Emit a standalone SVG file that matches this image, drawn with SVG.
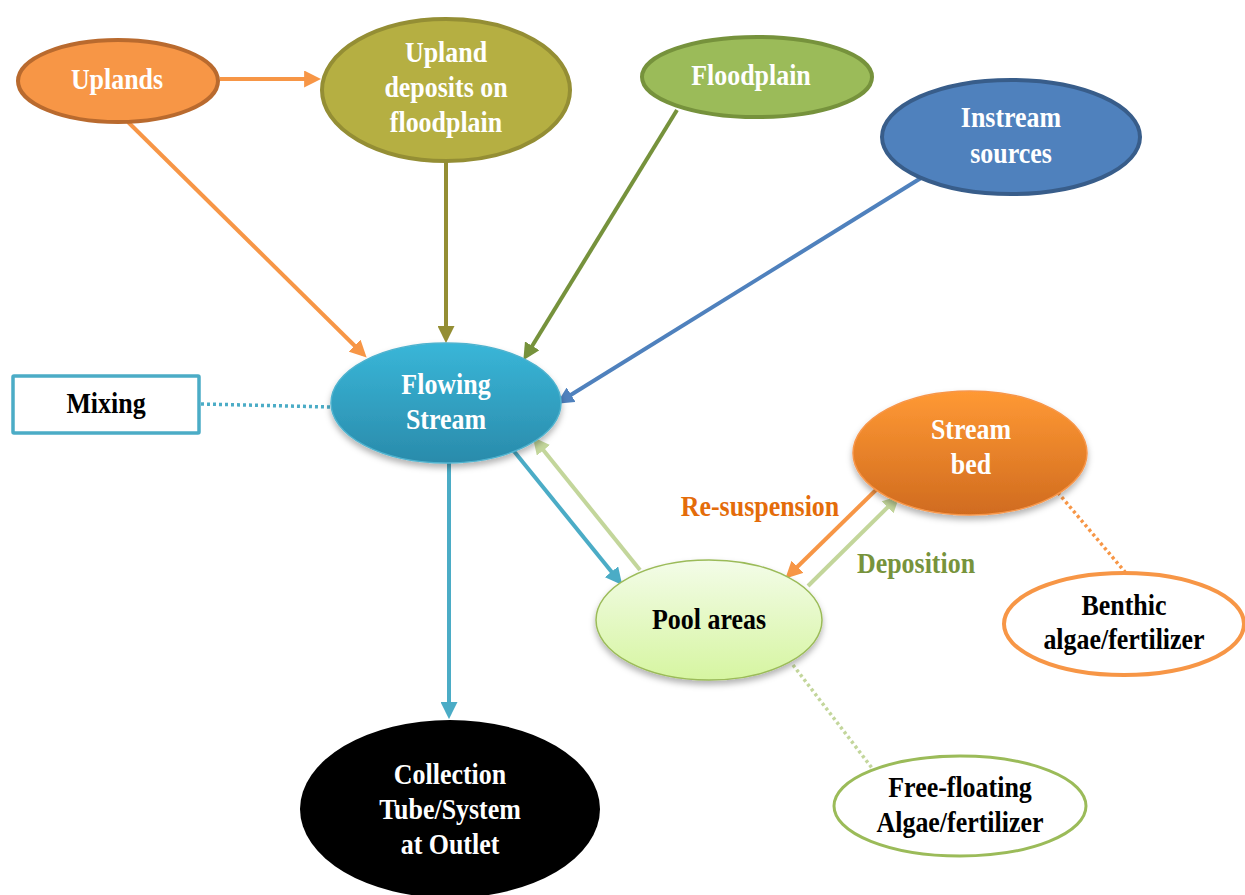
<svg xmlns="http://www.w3.org/2000/svg" width="1245" height="895" viewBox="0 0 1245 895">
  <defs>
    <style>
      .lbl { font-family: "Liberation Serif", "Times New Roman", serif; font-weight: bold; font-size: 28.5px; text-anchor: middle;
             transform-box: fill-box; transform-origin: center; transform: scaleX(0.91); }
      .w { fill: #ffffff; }
      .k { fill: #000000; }
      .conn { fill: none; stroke-width: 4; }
      .dot { fill: none; stroke-width: 3.5; stroke-dasharray: 3 3; }
    </style>
    <linearGradient id="gStream" x1="0" y1="0" x2="0" y2="1">
      <stop offset="0" stop-color="#39B6D8"/>
      <stop offset="1" stop-color="#2A8BAB"/>
    </linearGradient>
    <linearGradient id="gBed" x1="0" y1="0" x2="0" y2="1">
      <stop offset="0" stop-color="#FF9934"/>
      <stop offset="1" stop-color="#D06B1F"/>
    </linearGradient>
    <linearGradient id="gPool" x1="0" y1="0" x2="0" y2="1">
      <stop offset="0" stop-color="#F3FCE8"/>
      <stop offset="1" stop-color="#D6F5A1"/>
    </linearGradient>
    <filter id="shadow" x="-20%" y="-20%" width="140%" height="150%">
      <feDropShadow dx="0" dy="4" stdDeviation="3" flood-color="#000" flood-opacity="0.3"/>
    </filter>
    <marker id="aOrange" viewBox="0 0 10 10" refX="7" refY="5" markerUnits="userSpaceOnUse" markerWidth="17" markerHeight="17" orient="auto">
      <path d="M0,0 L10,5 L0,10 z" fill="#F79646"/>
    </marker>
    <marker id="aOlive" viewBox="0 0 10 10" refX="7" refY="5" markerUnits="userSpaceOnUse" markerWidth="17" markerHeight="17" orient="auto">
      <path d="M0,0 L10,5 L0,10 z" fill="#948E34"/>
    </marker>
    <marker id="aGreen" viewBox="0 0 10 10" refX="7" refY="5" markerUnits="userSpaceOnUse" markerWidth="17" markerHeight="17" orient="auto">
      <path d="M0,0 L10,5 L0,10 z" fill="#76923C"/>
    </marker>
    <marker id="aBlue" viewBox="0 0 10 10" refX="7" refY="5" markerUnits="userSpaceOnUse" markerWidth="17" markerHeight="17" orient="auto">
      <path d="M0,0 L10,5 L0,10 z" fill="#4F81BD"/>
    </marker>
    <marker id="aAqua" viewBox="0 0 10 10" refX="7" refY="5" markerUnits="userSpaceOnUse" markerWidth="17" markerHeight="17" orient="auto">
      <path d="M0,0 L10,5 L0,10 z" fill="#4BACC6"/>
    </marker>
    <marker id="aLight" viewBox="0 0 10 10" refX="7" refY="5" markerUnits="userSpaceOnUse" markerWidth="17" markerHeight="17" orient="auto">
      <path d="M0,0 L10,5 L0,10 z" fill="#C3D69B"/>
    </marker>
  </defs>

  <rect width="1245" height="895" fill="#ffffff"/>

  <!-- connectors -->
  <g id="connectors">
    <line class="conn" x1="220" y1="79" x2="316" y2="79" stroke="#F79646" marker-end="url(#aOrange)"/>
    <line class="conn" x1="128" y1="122" x2="363" y2="354" stroke="#F79646" marker-end="url(#aOrange)"/>
    <line class="conn" x1="446" y1="162" x2="446" y2="338" stroke="#948E34" marker-end="url(#aOlive)"/>
    <line class="conn" x1="677" y1="110" x2="526" y2="356" stroke="#76923C" marker-end="url(#aGreen)"/>
    <line class="conn" x1="921" y1="178" x2="561" y2="401" stroke="#4F81BD" marker-end="url(#aBlue)"/>
    <line class="conn" x1="449" y1="463" x2="449" y2="714" stroke="#4BACC6" marker-end="url(#aAqua)"/>
    <line class="conn" x1="513" y1="450" x2="619" y2="581" stroke="#4BACC6" marker-end="url(#aAqua)"/>
    <line class="conn" x1="640" y1="570" x2="536" y2="441" stroke="#C3D69B" marker-end="url(#aLight)"/>
    <line class="conn" x1="880" y1="486" x2="789" y2="575" stroke="#F79646" marker-end="url(#aOrange)"/>
    <line class="conn" x1="808" y1="586" x2="896" y2="499" stroke="#C3D69B" marker-end="url(#aLight)"/>
    <line class="dot" x1="201" y1="404" x2="331" y2="407" stroke="#4BACC6"/>
    <line class="dot" x1="1054" y1="488" x2="1125" y2="572" stroke="#F79646" stroke-width="3"/>
    <line class="dot" x1="793" y1="665" x2="872" y2="768" stroke="#C3D69B" stroke-width="3"/>
  </g>

  <!-- edge labels -->
  <text class="lbl" x="760" y="516" fill="#E46C0A">Re-suspension</text>
  <text class="lbl" x="916" y="573" fill="#77933C">Deposition</text>

  <!-- nodes -->
  <g id="uplands">
    <ellipse cx="118" cy="81" rx="100" ry="41" fill="#F79646" stroke="#B96A2E" stroke-width="4"/>
    <text class="lbl w" x="117" y="89">Uplands</text>
  </g>

  <g id="upland-deposits">
    <ellipse cx="446" cy="90" rx="124" ry="71" fill="#B5AF42" stroke="#948E34" stroke-width="4"/>
    <text class="lbl w" x="446" y="62">Upland</text>
    <text class="lbl w" x="446" y="97">deposits on</text>
    <text class="lbl w" x="446" y="132">floodplain</text>
  </g>

  <g id="floodplain">
    <ellipse cx="757" cy="77" rx="115" ry="40" fill="#9BBB59" stroke="#76923C" stroke-width="4"/>
    <text class="lbl w" x="751" y="85">Floodplain</text>
  </g>

  <g id="instream-sources">
    <ellipse cx="1011" cy="137" rx="129" ry="57" fill="#4F81BD" stroke="#385D8A" stroke-width="4"/>
    <text class="lbl w" x="1011" y="127">Instream</text>
    <text class="lbl w" x="1011" y="163">sources</text>
  </g>

  <g id="mixing">
    <rect x="13" y="376" width="186" height="57" rx="1" fill="#ffffff" stroke="#4BACC6" stroke-width="3.5"/>
    <text class="lbl k" x="106" y="413">Mixing</text>
  </g>

  <g id="flowing-stream">
    <ellipse cx="446" cy="403" rx="115" ry="60" fill="url(#gStream)" stroke="#4FB3CF" stroke-width="1.5" filter="url(#shadow)"/>
    <text class="lbl w" x="446" y="394">Flowing</text>
    <text class="lbl w" x="446" y="429">Stream</text>
  </g>

  <g id="stream-bed">
    <ellipse cx="970" cy="453" rx="117" ry="62" fill="url(#gBed)" stroke="#F7964A" stroke-width="1.5" filter="url(#shadow)"/>
    <text class="lbl w" x="971" y="439">Stream</text>
    <text class="lbl w" x="971" y="474">bed</text>
  </g>

  <g id="pool-areas">
    <ellipse cx="709" cy="620" rx="113" ry="60" fill="url(#gPool)" stroke="#9BBB59" stroke-width="1.5" filter="url(#shadow)"/>
    <text class="lbl k" x="709" y="629">Pool areas</text>
  </g>

  <g id="benthic">
    <ellipse cx="1124" cy="624" rx="120" ry="51" fill="#ffffff" stroke="#F79646" stroke-width="4"/>
    <text class="lbl k" x="1124" y="615">Benthic</text>
    <text class="lbl k" x="1124" y="649">algae/fertilizer</text>
  </g>

  <g id="free-floating">
    <ellipse cx="960" cy="806" rx="126" ry="50" fill="#ffffff" stroke="#9BBB59" stroke-width="3"/>
    <text class="lbl k" x="960" y="797">Free-floating</text>
    <text class="lbl k" x="960" y="832">Algae/fertilizer</text>
  </g>

  <g id="collection">
    <ellipse cx="450" cy="809" rx="150" ry="89" fill="#000000"/>
    <text class="lbl w" x="450" y="784">Collection</text>
    <text class="lbl w" x="450" y="819">Tube/System</text>
    <text class="lbl w" x="450" y="854">at Outlet</text>
  </g>
</svg>
